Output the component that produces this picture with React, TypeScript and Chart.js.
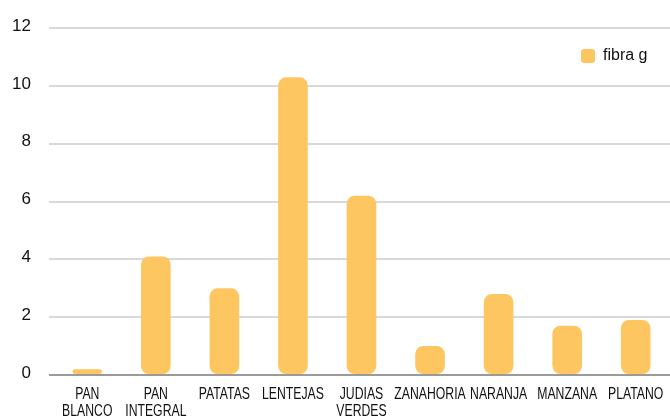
import React, { useEffect, useRef } from "react";
import { Chart, registerables } from "chart.js";

Chart.register(...registerables);

const categories: (string | string[])[] = [
  ["PAN", "BLANCO"],
  ["PAN", "INTEGRAL"],
  "PATATAS",
  "LENTEJAS",
  ["JUDIAS", "VERDES"],
  "ZANAHORIA",
  "NARANJA",
  "MANZANA",
  "PLATANO",
];
const fibraValues = [0.2, 4.1, 3.0, 10.3, 6.2, 1.0, 2.8, 1.7, 1.9];
const seriesLabel = "fibra g";
const yTicks = [0, 2, 4, 6, 8, 10, 12];

const BAR_COLOR = "#FDC660";
const TEXT_COLOR = "#111";
const W = 670;
const H = 430;
const X_LABEL_SQUEEZE = 0.72;

// Draws the x tick labels (through Chart.js itself) horizontally condensed,
// mimicking the narrow font of the reference.
const condensedXLabels = {
  id: "condensedXLabels",
  beforeDraw(chart: any) {
    const scale = chart.scales.x;
    if (!scale || scale.__condensed) return;
    scale.__condensed = true;
    const orig = scale.drawLabels;
    scale.drawLabels = function (area: any) {
      const ctx = this.ctx;
      const protoRotate = CanvasRenderingContext2D.prototype.rotate;
      ctx.rotate = function (a: number) {
        protoRotate.call(this, a);
        this.scale(X_LABEL_SQUEEZE, 1);
      };
      try {
        orig.call(this, area);
      } finally {
        delete ctx.rotate;
      }
    };
  },
};

const legendPlugin = {
  id: "insideLegend",
  afterDraw(chart: any) {
    const ctx = chart.ctx;
    const ds = chart.data.datasets[0];
    ctx.save();
    const x = 581;
    const y = 49;
    const s = 14;
    ctx.fillStyle = ds.backgroundColor;
    ctx.beginPath();
    if ((ctx as any).roundRect) (ctx as any).roundRect(x, y, s, s, 3);
    else ctx.rect(x, y, s, s);
    ctx.fill();
    ctx.fillStyle = TEXT_COLOR;
    ctx.font = "16px 'Liberation Sans', Arial, sans-serif";
    ctx.textBaseline = "middle";
    ctx.textAlign = "left";
    ctx.fillText(ds.label, 603, y + s / 2);
    ctx.restore();
  },
};

export default function App() {
  const ref = useRef<HTMLCanvasElement>(null);
  useEffect(() => {
    if (!ref.current) return;
    const chart = new Chart(ref.current, {
      type: "bar",
      data: {
        labels: categories,
        datasets: [
          {
            label: seriesLabel,
            data: fibraValues,
            backgroundColor: BAR_COLOR,
            borderRadius: 8,
            borderSkipped: false,
            barPercentage: 0.54,
            categoryPercentage: 0.8,
          },
        ],
      },
      options: {
        responsive: false,
        animation: false,
        layout: { padding: { top: 26, left: 0, right: 0, bottom: 0 } },
        plugins: {
          legend: { display: false },
          tooltip: { enabled: false },
        },
        scales: {
          x: {
            grid: { display: false, drawTicks: false },
            border: { display: false },
            ticks: {
              autoSkip: false,
              maxRotation: 0,
              minRotation: 0,
              padding: 11,
              color: TEXT_COLOR,
              font: { family: "'Liberation Sans', Arial, sans-serif", size: 17, lineHeight: 1 },
            },
            afterFit: (scale: any) => {
              scale.height = H - 375;
              scale.paddingLeft = 0;
              scale.paddingRight = 0;
            },
          },
          y: {
            min: 0,
            max: 12,
            afterBuildTicks: (scale: any) => {
              scale.ticks = yTicks.map((v) => ({ value: v }));
            },
            grid: {
              color: (c: any) => (c.tick && c.tick.value === 0 ? "#9a9a9a" : "#d9d9d9"),
              lineWidth: 2,
              drawTicks: true,
              tickLength: 4,
            },
            border: { display: false },
            ticks: {
              padding: 18,
              labelOffset: -2,
              color: TEXT_COLOR,
              font: { family: "'Liberation Sans', Arial, sans-serif", size: 17 },
            },
            afterFit: (scale: any) => {
              scale.width = 53;
            },
          },
        },
      },
      plugins: [condensedXLabels, legendPlugin],
    });
    chart.draw();
    return () => chart.destroy();
  }, []);
  return (
    <div style={{ position: "absolute", left: 0, top: 0, width: W, height: H }}>
      <canvas ref={ref} width={W} height={H} />
    </div>
  );
}
